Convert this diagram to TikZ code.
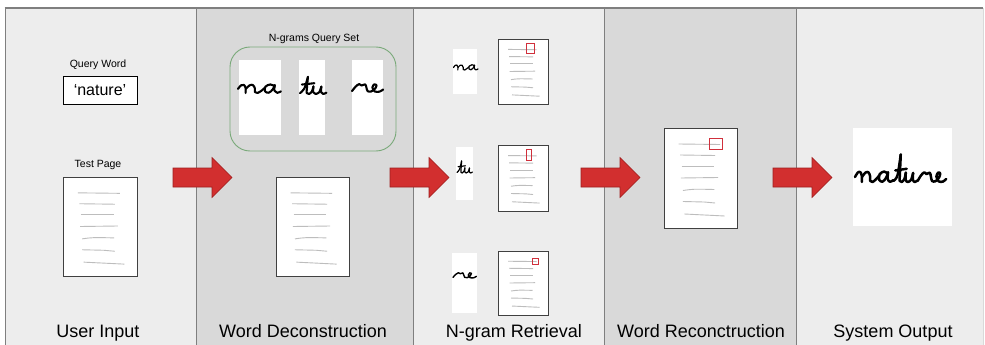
\documentclass[tikz,border=0pt]{standalone}
\usepackage{fontspec}
\setmainfont{Liberation Sans}
\definecolor{panelL}{HTML}{EDEDED}
\definecolor{panelD}{HTML}{D9D9D9}
\definecolor{sepgray}{HTML}{7F7F7F}
\definecolor{arrowred}{HTML}{D22F2F}
\definecolor{arrowedge}{HTML}{9E1F1F}
\definecolor{markred}{HTML}{D0303C}
\definecolor{setgreen}{HTML}{79A979}
\definecolor{linegray}{HTML}{BDBDBD}

% handwritten letter groups, local units: baseline y=0, x-height 1
\newcommand\hwna{%
  \draw[hand] plot[smooth,tension=.6] coordinates {(0,.45) (.12,.85) (.24,.9) (.31,.55) (.31,0)};
  \draw[hand] plot[smooth,tension=.6] coordinates {(.32,.45) (.47,.85) (.61,.88) (.69,.5) (.69,.1) (.8,0) (.98,.3) (1.1,.6)};
  \draw[hand] plot[smooth,tension=.6] coordinates {(1.5,.75) (1.32,.95) (1.12,.7) (1.1,.2) (1.25,.03) (1.42,.4) (1.5,.88)};
  \draw[hand] plot[smooth,tension=.6] coordinates {(1.5,.88) (1.49,.25) (1.6,.02) (1.75,.18)};
}
\newcommand\hwtu[1]{% #1 = height of the t
  \draw[hand] plot[smooth,tension=.5] coordinates {(0,.1) (.18,.6) (.33,#1)};
  \draw[hand] plot[smooth,tension=.5] coordinates {(.33,#1) (.29,.7) (.28,.1) (.38,0) (.5,.3) (.56,.85)};
  \draw[hand] plot[smooth,tension=.5] coordinates {(.56,.85) (.55,.2) (.65,0) (.8,.2) (.89,.82)};
  \draw[hand] plot[smooth,tension=.5] coordinates {(.89,.82) (.88,.2) (.97,0) (1.1,.15)};
  \draw[hand] (.08,1.05) -- (.6,1.2);
}
\newcommand\hwre{%
  \draw[hand] plot[smooth,tension=.55] coordinates {(0,.1) (.15,.6) (.3,.88) (.4,.72) (.55,.85) (.6,.5) (.65,.1) (.8,.06) (.97,.4) (1.02,.78) (.93,.86) (.85,.5) (.95,.06) (1.15,.04) (1.3,.28)};
}
% faint text lines on a page, local units: page is the unit square, y down
\newcommand\pagetext{%
  \draw[pline] (.20,.16) -- (.77,.165);
  \draw[pline] (.22,.27) -- (.70,.275);
  \draw[pline] (.24,.38) -- (.69,.38);
  \draw[pline] (.23,.50) -- (.74,.495);
  \draw[pline] (.26,.625) .. controls (.4,.61) .. (.69,.615);
  \draw[pline] (.26,.735) -- (.55,.74) -- (.70,.75);
  \draw[pline] (.28,.86) -- (.83,.88);
}
% a page: #1,#2 top-left corner, #3 width, #4 height
\newcommand\docpage[4]{%
  \begin{scope}[shift={(#1,#2)},x=#3pt,y=-#4pt]
    \draw[page] (0,0) rectangle (1,1);
    \pagetext
  \end{scope}
}

\begin{document}
\begin{tikzpicture}[x=1pt,y=-1pt,
  hand/.style={line width=2.1pt,line cap=round,line join=round,black},
  pline/.style={line width=.9pt,linegray},
  page/.style={draw=black!75,line width=.8pt,fill=white},
  hitbox/.style={draw=markred,line width=.8pt},
  sep/.style={draw=sepgray,line width=.8pt},
  small/.style={font=\fontsize{10.5}{12}\selectfont,inner sep=0pt},
  title/.style={font=\fontsize{18}{21}\selectfont,inner sep=0pt,anchor=base},
  blockarrow/.pic={\draw[fill=arrowred,draw=arrowedge,line width=.6pt]
    (0,-9.5) -- (39,-9.5) -- (39,-20) -- (59,0) -- (39,20) -- (39,9.5) -- (0,9.5) -- cycle;}]
\useasboundingbox (0,0) rectangle (985,345);

% stage panels
\begin{scope}
  \clip (0,0) rectangle (985,345);
  \fill[panelL] (5,8) rectangle (196,350);
  \fill[panelD] (196,8) rectangle (413,350);
  \fill[panelL] (413,8) rectangle (604,350);
  \fill[panelD] (604,8) rectangle (796,350);
  \fill[panelL] (796,8) rectangle (983,350);
  \foreach \x in {5,196,413,604,796} \draw[sep] (\x,8) -- (\x,350);
  \draw[black!15,line width=.6pt] (983,8) -- (983,350);
  \draw[sepgray,line width=1.4pt] (4.5,8) -- (983,8);
\end{scope}

% stage 1: user input
\node[small,anchor=base] (qlabel) at (98,67.5) {Query Word};
\node[draw=black,line width=.8pt,fill=white,minimum width=74pt,minimum height=28pt,inner sep=0pt,
      font=\fontsize{16}{18}\selectfont] (query) at (100,90) {`nature'};
\node[small,anchor=base] (tlabel) at (98,167) {Test Page};
\docpage{63}{177}{74}{99}

% stage 2: word deconstruction
\node[small,anchor=base] (setlabel) at (314,42) {N-grams Query Set};
\node[draw=setgreen,line width=.9pt,rounded corners=20pt,minimum width=166pt,minimum height=104pt] (qset) at (313,99) {};
\fill[white] (239,60) rectangle (281,135);
\fill[white] (299,60) rectangle (325,135);
\fill[white] (352,60) rectangle (383,135);
\begin{scope}[shift={(238,93)},x=24.5pt,y=9pt] \hwna \end{scope}
\begin{scope}[shift={(300,94)},x=24pt,y=9pt] \hwtu{1.9} \end{scope}
\begin{scope}[shift={(352,92)},x=24pt,y=9pt] \hwre \end{scope}
\docpage{276}{177}{73}{99}

% stage 3: n-gram retrieval
\fill[white] (453,49) rectangle (477,94);
\fill[white] (456,147) rectangle (473,200);
\fill[white] (452,253) rectangle (477,313);
\begin{scope}[shift={(453.5,70)},x=14pt,y=5.5pt,hand/.append style={line width=1.2pt}] \hwna \end{scope}
\begin{scope}[shift={(457,173)},x=14pt,y=6pt,hand/.append style={line width=1.2pt}] \hwtu{2} \end{scope}
\begin{scope}[shift={(453,278)},x=18pt,y=6pt,hand/.append style={line width=1.4pt}] \hwre \end{scope}
\docpage{498}{39}{50}{65}
\draw[hitbox] (526,43) rectangle (534,53);
\docpage{498}{145}{50}{66}
\draw[hitbox] (526,149) rectangle (531,160);
\docpage{498}{251}{50}{64}
\draw[hitbox] (532,258) rectangle (538,264);

% stage 4: word reconstruction
\docpage{664}{128}{73}{100}
\draw[hitbox] (709,138) rectangle (722,149);

% stage 5: system output
\fill[white] (853,128) rectangle (952,226);
\begin{scope}[shift={(855,182)},x=22pt,y=11pt,hand/.append style={line width=2.5pt}]
  \hwna
  \begin{scope}[xshift=1.75*22pt] \hwtu{2.5} \end{scope}
  \begin{scope}[xshift=2.85*22pt] \hwre \end{scope}
\end{scope}

% stage titles
\node[title] (s1) at (98,337) {User Input};
\node[title] (s2) at (303,337) {Word Deconstruction};
\node[title] (s3) at (514,337) {N-gram Retrieval};
\node[title] (s4) at (701,337) {Word Reconctruction};
\node[title] (s5) at (893,337) {System Output};

% block arrows between stages
\coordinate (a1) at (173,177.5);
\coordinate (a2) at (390,177.5);
\coordinate (a3) at (581,177.5);
\coordinate (a4) at (773,177.5);
\foreach \c in {a1,a2,a3,a4} \pic at (\c) {blockarrow};
\end{tikzpicture}
\end{document}
